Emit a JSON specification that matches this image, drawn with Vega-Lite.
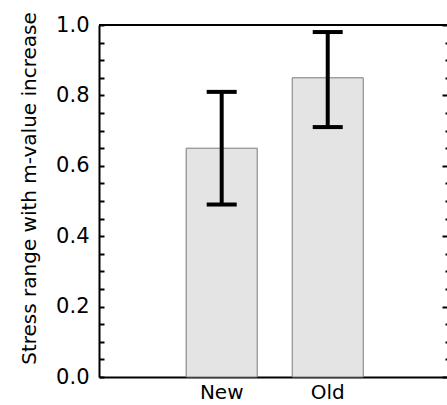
{
  "$schema": "https://vega.github.io/schema/vega-lite/v6.json",
  "width": 348,
  "height": 352,
  "autosize": {"type": "none"},
  "padding": {"left": 99, "top": 25, "right": 0, "bottom": 28},
  "config": {
    "font": "DejaVu Sans",
    "view": {"stroke": null},
    "axis": {"grid": false, "labelColor": "black", "titleColor": "black", "labelFont": "DejaVu Sans", "titleFont": "DejaVu Sans"}
  },
  "data": {
    "values": [
      {"group": "New", "mean": 0.65, "lo": 0.49, "hi": 0.81},
      {"group": "Old", "mean": 0.85, "lo": 0.71, "hi": 0.98}
    ]
  },
  "layer": [
    {
      "mark": {"type": "bar", "fill": "#e4e4e4", "stroke": "#7a7a7a", "strokeWidth": 1},
      "encoding": {
        "x": {
          "field": "group", "type": "nominal",
          "scale": {"domain": ["New", "Old"], "paddingInner": 0.33, "paddingOuter": 0.806, "align": 0.51},
          "axis": {"title": null, "labelAngle": 0, "ticks": false, "domainColor": "black", "domainWidth": 2, "labelFontSize": 20, "labelPadding": 5}
        },
        "y": {
          "field": "mean", "type": "quantitative",
          "scale": {"domain": [0, 1]},
          "axis": {
            "orient": "left",
            "values": [0, 0.05, 0.1, 0.15, 0.2, 0.25, 0.3, 0.35, 0.4, 0.45, 0.5, 0.55, 0.6, 0.65, 0.7, 0.75, 0.8, 0.85, 0.9, 0.95, 1],
            "labelExpr": "abs(datum.value*5 - round(datum.value*5)) < 0.001 ? format(datum.value, '.1f') : ''",
            "tickSize": -5, "tickWidth": 2, "tickColor": "black",
            "domainColor": "black", "domainWidth": 2,
            "labelFontSize": 21, "labelPadding": 15,
            "title": "Stress range with m-value increase",
            "titleFontSize": 20, "titleFontWeight": "normal",
            "titleAngle": -90, "titleAlign": "center", "titleBaseline": "alphabetic",
            "titleX": -64, "titleY": 163
          }
        }
      }
    },
    {
      "mark": {"type": "rule", "strokeWidth": 4, "color": "black"},
      "encoding": {
        "x": {"field": "group", "type": "nominal"},
        "y": {"field": "lo", "type": "quantitative", "axis": null},
        "y2": {"field": "hi"}
      }
    },
    {
      "mark": {"type": "tick", "thickness": 4, "size": 30, "color": "black", "opacity": 1},
      "encoding": {
        "x": {"field": "group", "type": "nominal"},
        "y": {"field": "lo", "type": "quantitative", "axis": null}
      }
    },
    {
      "mark": {"type": "tick", "thickness": 4, "size": 30, "color": "black", "opacity": 1},
      "encoding": {
        "x": {"field": "group", "type": "nominal"},
        "y": {"field": "hi", "type": "quantitative", "axis": null}
      }
    },
    {
      "mark": {"type": "rule", "strokeWidth": 2, "color": "black"},
      "encoding": {
        "y": {
          "datum": 1, "type": "quantitative",
          "axis": {
            "orient": "right",
            "values": [0, 0.05, 0.1, 0.15, 0.2, 0.25, 0.3, 0.35, 0.4, 0.45, 0.5, 0.55, 0.6, 0.65, 0.7, 0.75, 0.8, 0.85, 0.9, 0.95, 1],
            "labels": false, "domain": false, "title": null,
            "tickWidth": 2, "tickColor": "black",
            "tickSize": {"condition": {"test": "abs(datum.value*5 - round(datum.value*5)) < 0.001", "value": -5}, "value": -2}
          }
        }
      }
    }
  ],
  "resolve": {"axis": {"y": "independent"}}
}
